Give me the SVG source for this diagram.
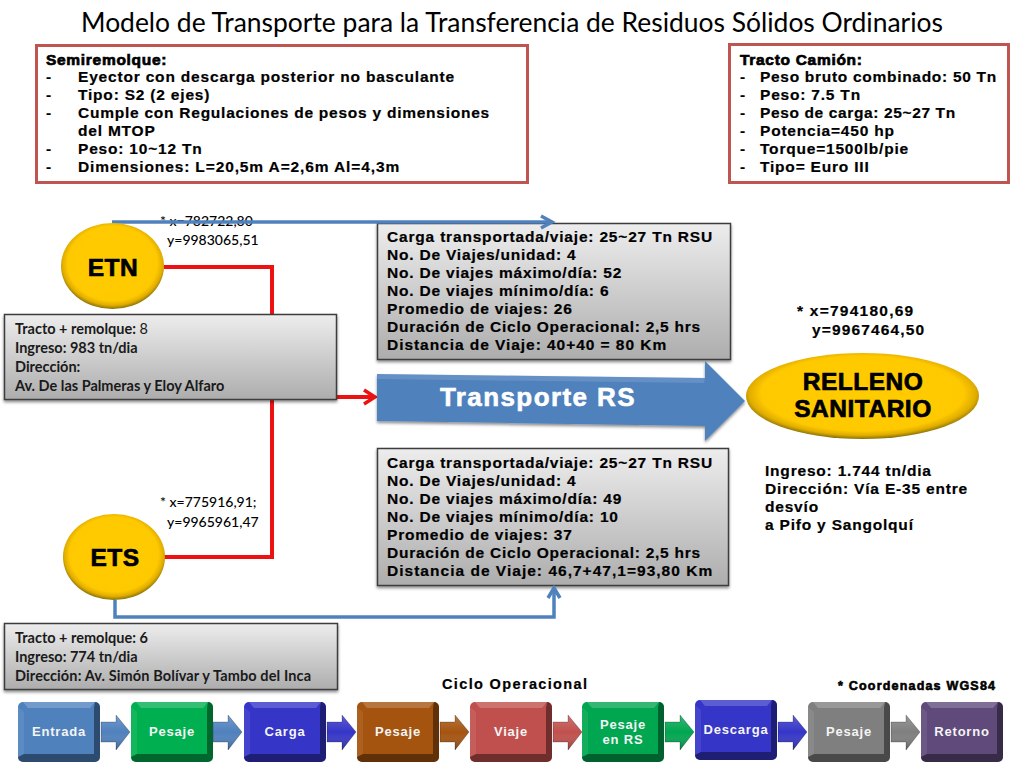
<svg xmlns="http://www.w3.org/2000/svg" width="1024" height="768" viewBox="0 0 1024 768">
<style>
text{font-family:"Liberation Sans",Arial,sans-serif;fill:#000}
.b{font-weight:700;font-size:15.500px;letter-spacing:.8px;stroke:#000;stroke-width:.2px}
.h{font-weight:700;font-size:15.500px;letter-spacing:.7px;stroke:#000;stroke-width:.7px}
.c{font-family:Lato,"Open Sans",sans-serif;font-size:14px;font-weight:500}
.d{font-family:Lato,"Open Sans",sans-serif;font-size:14.500px;font-weight:700;fill:#1a1a1a}
.n{font-weight:700;font-size:24.500px;text-anchor:middle;letter-spacing:.5px;stroke:#000;stroke-width:.7px}
.s{font-weight:700;font-size:13px;fill:#f4f4f4;text-anchor:middle;letter-spacing:.8px}
.red{fill:#fff;stroke:#BE5551;stroke-width:3}
.grey{fill:url(#g);stroke:#3c3c3c;stroke-width:1.500;filter:url(#sh)}
.gold{fill:url(#au)}
.rl{fill:none;stroke:#ee1111;stroke-width:4}
.bl{fill:none;stroke:#4F81BD;stroke-width:3.500}
.ar{fill:none;stroke:#ee1111;stroke-width:3.500}
.ab{fill:none;stroke:#4F81BD;stroke-width:3.500}
</style>
<defs>
<linearGradient id="g" x1="0" y1="0" x2="0" y2="1"><stop offset="0" stop-color="#ededed"/><stop offset="1" stop-color="#adadad"/></linearGradient>
<radialGradient id="au" cx=".5" cy=".47" r=".53"><stop offset="0" stop-color="#ffcc00"/><stop offset=".82" stop-color="#ffc900"/><stop offset=".92" stop-color="#e0ad00"/><stop offset="1" stop-color="#86700a"/></radialGradient>
<filter id="sh" x="-5%" y="-5%" width="110%" height="115%"><feDropShadow dx="0" dy="2" stdDeviation="1.500" flood-color="#000" flood-opacity=".45"/></filter>
<g id="bev">
<polygon points="5,0 77,0 72,6 10,6" fill="#fff" fill-opacity=".2"/>
<polygon points="0,5 6,10 6,52 0,55" fill="#fff" fill-opacity=".08"/>
<path d="M77 0A5 5 0 0 1 82 5V55L76 52V6Z" fill="#000" fill-opacity=".42"/>
<path d="M82 55A5 5 0 0 1 77 60H5A5 5 0 0 1 0 55L6 52H76Z" fill="#000" fill-opacity=".42"/>
</g>
<linearGradient id="ash" x1="0" y1="0" x2="0" y2="1"><stop offset="0" stop-color="#fff" stop-opacity=".2"/><stop offset=".5" stop-color="#fff" stop-opacity="0"/><stop offset="1" stop-color="#000" stop-opacity=".3"/></linearGradient>
<g id="arw">
<polygon points="0,7 15,7 15,0 29,17 15,35 15,27 0,27"/>
<polygon points="0,7 15,7 15,0 29,17 15,35 15,27 0,27" fill="url(#ash)" stroke="#000" stroke-opacity=".22"/>
</g>
</defs>

<text x="81" y="32" style="font-family:Lato,'Open Sans',sans-serif;font-size:26px" textLength="862" lengthAdjust="spacingAndGlyphs">Modelo de Transporte para la Transferencia de Residuos Sólidos Ordinarios</text>

<g id="semiremolque">
<rect class="red" x="36.500" y="45.500" width="491" height="137"/>
<text class="h" x="46" y="65">Semiremolque:</text>
<text class="b" x="46" y="82">-</text><text class="b" x="78" y="82" textLength="377">Eyector con descarga posterior no basculante</text>
<text class="b" x="46" y="100">-</text><text class="b" x="78" y="100">Tipo: S2 (2 ejes)</text>
<text class="b" x="46" y="118">-</text><text class="b" x="78" y="118" textLength="412">Cumple con Regulaciones de pesos y dimensiones</text>
<text class="b" x="78" y="136">del MTOP</text>
<text class="b" x="46" y="154">-</text><text class="b" x="78" y="154">Peso: 10~12 Tn</text>
<text class="b" x="46" y="172">-</text><text class="b" x="78" y="172" textLength="322">Dimensiones: L=20,5m A=2,6m Al=4,3m</text>
</g>

<g id="tracto-camion">
<rect class="red" x="729.500" y="44.500" width="279" height="138"/>
<text class="h" x="740" y="65">Tracto Camión:</text>
<text class="b" x="740" y="82">-</text><text class="b" x="760" y="82" textLength="237">Peso bruto combinado: 50 Tn</text>
<text class="b" x="740" y="100">-</text><text class="b" x="760" y="100">Peso: 7.5 Tn</text>
<text class="b" x="740" y="118">-</text><text class="b" x="760" y="118" textLength="196">Peso de carga: 25~27 Tn</text>
<text class="b" x="740" y="136">-</text><text class="b" x="760" y="136">Potencia=450 hp</text>
<text class="b" x="740" y="154">-</text><text class="b" x="760" y="154">Torque=1500lb/pie</text>
<text class="b" x="740" y="172">-</text><text class="b" x="760" y="172">Tipo= Euro III</text>
</g>

<g id="coordenadas">
<text class="c" x="160" y="226">* x=782722,80</text>
<text class="c" x="167" y="245">y=9983065,51</text>
<text class="c" x="160" y="507">* x=775916,91;</text>
<text class="c" x="167" y="527">y=9965961,47</text>
<text class="b" x="797" y="316" textLength="117">* x=794180,69</text>
<text class="b" x="812" y="335" textLength="113">y=9967464,50</text>
</g>

<g id="datos-etn">
<rect class="grey" x="377.500" y="223.500" width="353" height="136"/>
<text class="b" x="387" y="242" textLength="326">Carga transportada/viaje: 25~27 Tn RSU</text>
<text class="b" x="387" y="260">No. De Viajes/unidad: 4</text>
<text class="b" x="387" y="278">No. De viajes máximo/día: 52</text>
<text class="b" x="387" y="296">No. De viajes mínimo/día: 6</text>
<text class="b" x="387" y="314">Promedio de viajes: 26</text>
<text class="b" x="387" y="332" textLength="314">Duración de Ciclo Operacional: 2,5 hrs</text>
<text class="b" x="387" y="350" textLength="280">Distancia de Viaje: 40+40 = 80 Km</text>
</g>
<g id="datos-ets">
<rect class="grey" x="377.500" y="448.500" width="351" height="137"/>
<text class="b" x="387" y="468" textLength="326">Carga transportada/viaje: 25~27 Tn RSU</text>
<text class="b" x="387" y="486">No. De Viajes/unidad: 4</text>
<text class="b" x="387" y="504">No. De viajes máximo/día: 49</text>
<text class="b" x="387" y="522">No. De viajes mínimo/día: 10</text>
<text class="b" x="387" y="540">Promedio de viajes: 37</text>
<text class="b" x="387" y="558" textLength="314">Duración de Ciclo Operacional: 2,5 hrs</text>
<text class="b" x="387" y="576" textLength="326">Distancia de Viaje: 46,7+47,1=93,80 Km</text>
</g>

<g id="connectors">
<path class="rl" d="M164 267H272V557H150"/>
<path class="rl" d="M272 397H372"/>
<path class="ar" d="M364 390L375 397L364 404"/>
<path class="bl" d="M112 222H550"/>
<path class="ab" d="M541 216L552 222L541 228"/>
<path class="bl" d="M115 600V617H554V590"/>
<path class="ab" d="M548 598L554 588L560 598"/>
</g>

<g id="etn">
<ellipse class="gold" cx="112.500" cy="266" rx="51.500" ry="43"/>
<text class="n" x="113" y="276">ETN</text>
</g>
<g id="ets">
<ellipse class="gold" cx="114" cy="557" rx="51" ry="43"/>
<text class="n" x="115" y="566">ETS</text>
</g>
<g id="relleno">
<ellipse class="gold" cx="862.500" cy="396" rx="116.500" ry="43"/>
<text class="n" x="863" y="390">RELLENO</text>
<text class="n" x="863" y="417">SANITARIO</text>
</g>
<g id="transporte">
<polygon points="377,374 705,378 705,361 745,401 705,441 705,426 377,421" fill="#4F81BD" filter="url(#sh)"/>
<polygon points="377,374 705,378 704,383 377,379" fill="#fff" fill-opacity=".12"/>
<text x="440" y="406" style="font-weight:700;font-size:26px;letter-spacing:1.400px;fill:#fff;stroke:#fff;stroke-width:.6px">Transporte RS</text>
</g>

<g id="info-etn">
<rect class="grey" x="4.500" y="314.500" width="332" height="85"/>
<text class="d" x="15" y="334">Tracto + remolque: <tspan font-weight="400">8</tspan></text>
<text class="d" x="15" y="353">Ingreso: 983 tn/dia</text>
<text class="d" x="15" y="372">Dirección:</text>
<text class="d" x="15" y="391">Av. De las Palmeras y Eloy Alfaro</text>
</g>
<g id="info-ets">
<rect class="grey" x="4.500" y="623.500" width="333" height="66"/>
<text class="d" x="15" y="643">Tracto + remolque: 6</text>
<text class="d" x="15" y="662">Ingreso: 774 tn/dia</text>
<text class="d" x="15" y="681" textLength="296">Dirección: Av. Simón Bolívar y Tambo del Inca</text>
</g>
<g id="leyenda">
<text x="442" y="689" textLength="145" style="font-weight:700;font-size:14.500px;stroke:#000;stroke-width:.2px">Ciclo Operacional</text>
<text x="838" y="690" textLength="157" style="font-weight:700;font-size:12.500px;stroke:#000;stroke-width:.6px">* Coordenadas WGS84</text>
</g>

<g id="arrows-ciclo">
<use href="#arw" x="101" y="715" fill="#4F81BD"/>
<use href="#arw" x="213" y="715" fill="#4F81BD"/>
<use href="#arw" x="327" y="715" fill="#3535C8"/>
<use href="#arw" x="440" y="715" fill="#A5540F"/>
<use href="#arw" x="553" y="715" fill="#C0504D"/>
<use href="#arw" x="665" y="715" fill="#00A650"/>
<use href="#arw" x="778" y="715" fill="#3535C8"/>
<use href="#arw" x="891" y="715" fill="#7F7F7F"/>
</g>
<g id="c-entrada"><rect x="18" y="702" width="82" height="60" rx="5" fill="#4F81BD"/><use href="#bev" x="18" y="702"/><text class="s" x="59" y="736">Entrada</text></g>
<g id="c-pesaje1"><rect x="131" y="702" width="82" height="60" rx="5" fill="#00B050"/><use href="#bev" x="131" y="702"/><text class="s" x="172" y="736">Pesaje</text></g>
<g id="c-carga"><rect x="244" y="702" width="82" height="60" rx="5" fill="#3535C8"/><use href="#bev" x="244" y="702"/><text class="s" x="285" y="736">Carga</text></g>
<g id="c-pesaje2"><rect x="357" y="702" width="82" height="60" rx="5" fill="#A5540F"/><use href="#bev" x="357" y="702"/><text class="s" x="398" y="736">Pesaje</text></g>
<g id="c-viaje"><rect x="470" y="702" width="82" height="60" rx="5" fill="#C0504D"/><use href="#bev" x="470" y="702"/><text class="s" x="511" y="736">Viaje</text></g>
<g id="c-pesaje-rs"><rect x="582" y="702" width="82" height="60" rx="5" fill="#00A650"/><use href="#bev" x="582" y="702"/><text class="s" x="623" y="729">Pesaje</text><text class="s" x="623" y="744">en RS</text></g>
<g id="c-descarga"><rect x="695" y="700" width="82" height="60" rx="5" fill="#3535C8"/><use href="#bev" x="695" y="700"/><text class="s" x="736" y="734">Descarga</text></g>
<g id="c-pesaje3"><rect x="808" y="702" width="82" height="60" rx="5" fill="#7F7F7F"/><use href="#bev" x="808" y="702"/><text class="s" x="849" y="736">Pesaje</text></g>
<g id="c-retorno"><rect x="921" y="702" width="82" height="60" rx="5" fill="#604A7B"/><use href="#bev" x="921" y="702"/><text class="s" x="962" y="736">Retorno</text></g>

<g id="relleno-info">
<text class="b" x="765" y="476">Ingreso: 1.744 tn/dia</text>
<text class="b" x="765" y="494" textLength="203">Dirección: Vía E-35 entre</text>
<text class="b" x="765" y="512">desvío</text>
<text class="b" x="765" y="530">a Pifo y Sangolquí</text>
</g>
</svg>
